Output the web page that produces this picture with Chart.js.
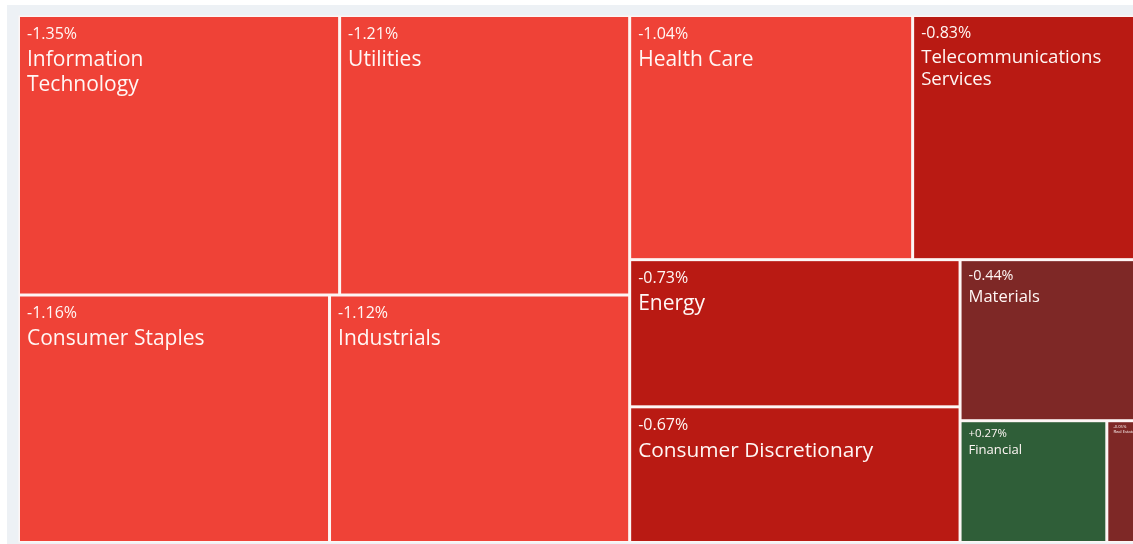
<!DOCTYPE html>
<html>
<head>
<meta charset="utf-8">
<script src="https://cdn.jsdelivr.net/npm/chart.js@4/dist/chart.umd.min.js"></script>
<style>
  html, body { margin: 0; padding: 0; background: #ffffff; }
  #wrap { width: 1133px; height: 544px; }
</style>
</head>
<body>
<div id="wrap"><canvas id="c" width="1133" height="544"></canvas></div>
<script>
// ---- data ----
const sectors = ['Information Technology', 'Utilities', 'Consumer Staples', 'Industrials',
  'Health Care', 'Telecommunications Services', 'Energy', 'Consumer Discretionary',
  'Materials', 'Financial', 'Real Estate'];
// daily change, %
const changes = [-1.35, -1.21, -1.16, -1.12, -1.04, -0.83, -0.73, -0.67, -0.44, 0.27, -0.05];
// relative size of each tile (estimated from tile areas)
const weights = [89.9, 81.2, 77.1, 74.4, 69.2, 54.5, 48.7, 44.9, 28.3, 17.9, 3.5];
const nameLines = [['Information', 'Technology'], ['Utilities'], ['Consumer Staples'], ['Industrials'],
  ['Health Care'], ['Telecommunications', 'Services'], ['Energy'], ['Consumer Discretionary'],
  ['Materials'], ['Financial'], ['Real Estate']];

// ---- styling ----
function colorFor(v) {
  if (v > 0) return '#2f5e38';
  if (v <= -1) return '#ef4237';
  if (v <= -0.5) return '#b91a13';
  return '#7e2826';
}
function fmt(v) { return (v > 0 ? '+' : '') + v.toFixed(2) + '%'; }
const FONT = '"Open Sans", "Noto Sans", sans-serif';

// binary treemap, split direction alternating with depth
function layout(idx, u0, v0, u1, v1, depth, out) {
  if (idx.length === 1) { out.push({ i: idx[0], u0, v0, u1, v1 }); return; }
  const w = idx.map(i => weights[i]);
  const total = w.reduce((a, b) => a + b, 0);
  let cum = 0, best = 1, bestDiff = Infinity, bestCum = 0;
  for (let k = 0; k < idx.length - 1; k++) {
    cum += w[k];
    const d = Math.abs(cum - total / 2);
    if (d < bestDiff) { bestDiff = d; best = k + 1; bestCum = cum; }
  }
  const f = bestCum / total;
  const a = idx.slice(0, best), b = idx.slice(best);
  if (depth % 2 === 0) {
    const um = u0 + (u1 - u0) * f;
    layout(a, u0, v0, um, v1, depth + 1, out);
    layout(b, um, v0, u1, v1, depth + 1, out);
  } else {
    const vm = v0 + (v1 - v0) * f;
    layout(a, u0, v0, u1, vm, depth + 1, out);
    layout(b, u0, vm, u1, v1, depth + 1, out);
  }
}

const treemapPlugin = {
  id: 'treemapPlugin',
  beforeDraw(chart) {
    const ctx = chart.ctx;
    ctx.save();
    ctx.fillStyle = '#ffffff';
    ctx.fillRect(0, 0, chart.width, chart.height);
    ctx.fillStyle = '#edf1f5';
    ctx.fillRect(7, 5, chart.width - 7, chart.height - 5);
    ctx.restore();
  },
  afterDraw(chart) {
    const ctx = chart.ctx;
    const xs = chart.scales.x, ys = chart.scales.y;
    const cells = [];
    layout(sectors.map((_, i) => i), 0, 0, 1, 1, 0, cells);
    ctx.save();
    const fx0 = xs.getPixelForValue(0), fx1 = xs.getPixelForValue(1);
    const fy0 = ys.getPixelForValue(0), fy1 = ys.getPixelForValue(1);
    ctx.fillStyle = '#fdf6f5';
    ctx.fillRect(fx0, fy0, fx1 - fx0, fy1 - fy0);
    const g = 1.5;
    cells.forEach(c => {
      const x0 = xs.getPixelForValue(c.u0) + g, x1 = xs.getPixelForValue(c.u1) - g;
      const y0 = ys.getPixelForValue(c.v0) + g, y1 = ys.getPixelForValue(c.v1) - g;
      const v = changes[c.i];
      ctx.fillStyle = colorFor(v);
      ctx.fillRect(x0, y0, x1 - x0, y1 - y0);
      const w = x1 - x0, h = y1 - y0;
      const root = Math.sqrt(w * h);
      // font sizes
      let size = Math.min(21, root * 0.1);
      ctx.font = '100px ' + FONT;
      const longest = Math.max(...nameLines[c.i].map(l => ctx.measureText(l).width));
      size = Math.min(size, 0.82 * w * 100 / longest);
      const vsize = Math.min(16, root * 0.087, size);
      const pad = Math.min(7, w * 0.2);
      const valueBase = vsize * 1.3 + Math.max(0, size - 13) * 0.1;
      const nameBase = valueBase + size * 1.3;
      ctx.save();
      ctx.beginPath();
      ctx.rect(x0, y0, w, h);
      ctx.clip();
      ctx.fillStyle = '#fff7f5';
      ctx.textAlign = 'left';
      ctx.textBaseline = 'alphabetic';
      ctx.font = vsize.toFixed(2) + 'px ' + FONT;
      ctx.fillText(fmt(v), x0 + pad, y0 + valueBase);
      ctx.font = size.toFixed(2) + 'px ' + FONT;
      nameLines[c.i].forEach((line, k) => {
        ctx.fillText(line, x0 + pad, y0 + nameBase + k * size * 1.2);
      });
      ctx.restore();
    });
    ctx.restore();
  }
};

new Chart(document.getElementById('c'), {
  type: 'scatter',
  data: { datasets: [{ label: 'Sectors', data: [] }] },
  options: {
    responsive: false,
    animation: false,
    devicePixelRatio: 1,
    layout: { padding: { left: 18.5, top: 15.5, right: 0, bottom: 1.5 } },
    scales: {
      x: { type: 'linear', min: 0, max: 1114.5 / 1117, display: false },
      y: { type: 'linear', min: 0, max: 1, reverse: true, display: false }
    },
    plugins: { legend: { display: false }, tooltip: { enabled: false }, title: { display: false } }
  },
  plugins: [treemapPlugin]
});
</script>
</body>
</html>
